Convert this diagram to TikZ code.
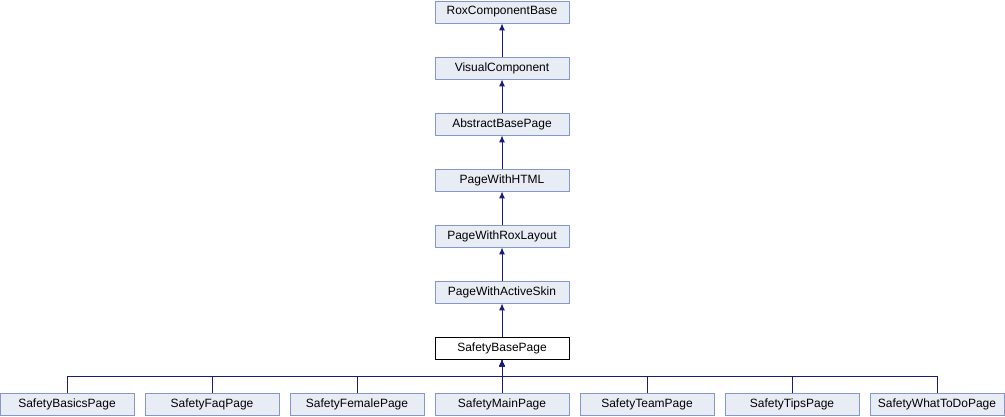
\documentclass[tikz,border=0pt]{standalone}
\usepackage{fontspec}
\setmainfont{Liberation Sans}
\usepackage{tikz}
\usetikzlibrary{arrows.meta}

\definecolor{boxfill}{RGB}{232,236,245}
\definecolor{boxline}{RGB}{132,151,200}
\definecolor{edgeblue}{RGB}{25,25,128}

\begin{document}
\begin{tikzpicture}[x=1pt, y=-1pt,
        cls/.style={draw=boxline, fill=boxfill, line width=0.9pt, minimum width=134pt, minimum height=22pt, inner sep=0pt, font=\fontsize{12}{14}\selectfont},
        cur/.style={cls, draw=black, fill=white},
        inh/.style={draw=edgeblue, line width=1pt, -{Latex[length=7pt,width=6pt]}}]
        \useasboundingbox (0,0) rectangle (1005,416);

        \node[cls] (rox) at (502,12) {RoxComponentBase};
        \node[cls] (visual) at (502,68) {VisualComponent};
        \node[cls] (abstract) at (502,124) {AbstractBasePage};
        \node[cls] (html) at (502,180) {PageWithHTML};
        \node[cls] (layout) at (502,236) {PageWithRoxLayout};
        \node[cls] (skin) at (502,292) {PageWithActiveSkin};
        \node[cur] (base) at (502,348) {SafetyBasePage};

        \node[cls] (basics) at (67,404) {SafetyBasicsPage};
        \node[cls] (faq) at (212,404) {SafetyFaqPage};
        \node[cls] (female) at (357,404) {SafetyFemalePage};
        \node[cls] (main) at (502,404) {SafetyMainPage};
        \node[cls] (team) at (647,404) {SafetyTeamPage};
        \node[cls] (tips) at (792,404) {SafetyTipsPage};
        \node[cls] (whattodo) at (937,404) {SafetyWhatToDoPage};

        \draw[inh] (visual) -- (rox);
        \draw[inh] (abstract) -- (visual);
        \draw[inh] (html) -- (abstract);
        \draw[inh] (layout) -- (html);
        \draw[inh] (skin) -- (layout);
        \draw[inh] (base) -- (skin);

        \coordinate (bus) at (502,376);
        \draw[inh] (basics.north) |- (bus) -- (base.south);
        \draw[inh] (faq.north) |- (bus) -- (base.south);
        \draw[inh] (female.north) |- (bus) -- (base.south);
        \draw[inh] (main.north) -- (base.south);
        \draw[inh] (team.north) |- (bus) -- (base.south);
        \draw[inh] (tips.north) |- (bus) -- (base.south);
        \draw[inh] (whattodo.north) |- (bus) -- (base.south);
    \end{tikzpicture}
\end{document}
